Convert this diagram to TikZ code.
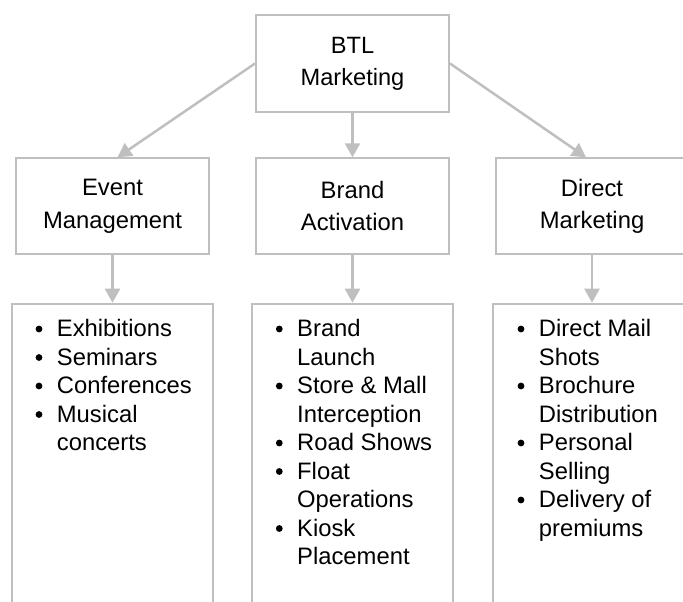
\documentclass[tikz,border=0pt]{standalone}
\usepackage{fontspec}
\setmainfont{Liberation Sans}
\usetikzlibrary{arrows.meta}
\definecolor{lg}{RGB}{191,191,191}
\newcommand\cnt{\hspace*{21.7pt}}
\begin{document}
\begin{tikzpicture}[x=1pt,y=-1pt,
  box/.style={draw=lg,line width=2pt,fill=white,minimum width=193pt,minimum height=96pt,inner sep=0pt,align=center},
  topbox/.style={box,font=\fontsize{23.6}{31.7}\selectfont},
  midbox/.style={box,font=\fontsize{23.8}{32.3}\selectfont},
  listbox/.style={draw=lg,line width=2pt,minimum width=201.6pt,minimum height=340pt,anchor=north,inner sep=0pt},
  listtext/.style={anchor=base west,inner sep=0pt,font=\fontsize{23.8}{28.5}\selectfont},
  conn/.style={draw=lg,line width=2.5pt,-{Triangle[length=14pt,width=15pt]}},
  dot/.style={fill=black}
]
\useasboundingbox (0,0) rectangle (683,602);
\clip (0,0) rectangle (683,602);

\node[topbox] (top) at (352.5,63.5) {BTL\\Marketing};
\node[midbox] (ev) at (112.5,206.3) {Event\\Management};
\node[midbox] (ba) at (352.5,206.3) {Brand\\Activation};
\node[midbox] (dm) at (592,206.3) {Direct\\Marketing};

\node[listbox] (evl) at (112.5,302.7) {};
\node[listbox] (bal) at (352.5,302.7) {};
\node[listbox] (dml) at (594,302.7) {};

\node[listtext] (evt) at (35,336.7) {\begin{tabular}[t]{@{}l@{}}
\cnt Exhibitions\\
\cnt Seminars\\
\cnt Conferences\\
\cnt Musical\\
\cnt concerts
\end{tabular}};
\node[listtext] (bat) at (275.3,336.7) {\begin{tabular}[t]{@{}l@{}}
\cnt Brand\\
\cnt Launch\\
\cnt Store \& Mall\\
\cnt Interception\\
\cnt Road Shows\\
\cnt Float\\
\cnt Operations\\
\cnt Kiosk\\
\cnt Placement
\end{tabular}};
\node[listtext] (dmt) at (517,336.7) {\begin{tabular}[t]{@{}l@{}}
\cnt Direct Mail\\
\cnt Shots\\
\cnt Brochure\\
\cnt Distribution\\
\cnt Personal\\
\cnt Selling\\
\cnt Delivery of\\
\cnt premiums
\end{tabular}};

% bullets
\foreach \k in {0,1,2,3} \fill[dot] (39,329+28.5*\k) circle (3.4);
\foreach \k in {0,2,4,5,7} \fill[dot] (279.3,329+28.5*\k) circle (3.4);
\foreach \k in {0,2,4,6} \fill[dot] (521,329+28.5*\k) circle (3.4);

\draw[conn] (top.west) -- ([xshift=5pt]ev.north);
\draw[conn] (top.south) -- (ba.north);
\draw[conn] (top.east) -- ([xshift=-6pt]dm.north);
\draw[conn] (ev.south) -- (evl.north);
\draw[conn] (ba.south) -- (bal.north);
\draw[conn] (dm.south) -- (dml.north -| dm.south);
\end{tikzpicture}
\end{document}
